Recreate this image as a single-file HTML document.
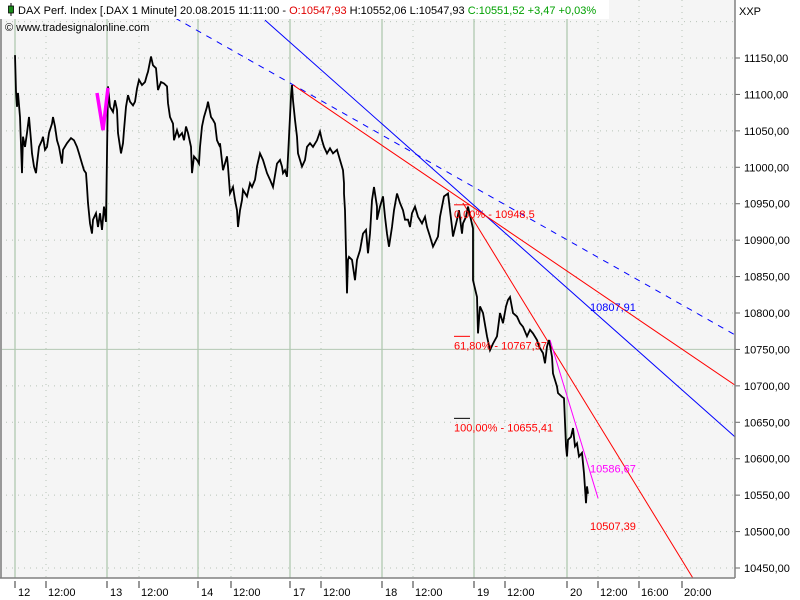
<!DOCTYPE html>
<html><head><meta charset="utf-8"><style>
html,body{margin:0;padding:0;background:#f5f5f5;}
svg{display:block;font-family:"Liberation Sans",Tahoma,sans-serif;}
</style></head><body>
<svg id="chart" width="800" height="600" viewBox="0 0 800 600" xmlns="http://www.w3.org/2000/svg">
<rect x="0" y="0" width="800" height="600" fill="#f5f5f5"/>
<rect x="735" y="0" width="65" height="600" fill="#ffffff"/>
<rect x="0" y="578" width="800" height="22" fill="#ffffff"/>
<g id="grid"></g>
<g id="lines"></g>
<g id="price"></g>
<g id="fib"></g>
<g id="axes"></g>
<line x1="1" y1="0" x2="1" y2="578" stroke="#999" stroke-width="2"/>
<line x1="735" y1="0" x2="735" y2="578" stroke="#808080" stroke-width="1.5"/>
<line x1="0" y1="578" x2="735" y2="578" stroke="#808080" stroke-width="1.5"/>
<text x="739" y="15" font-size="11" fill="#000">XXP</text>
<rect x="0" y="0" width="609" height="19" fill="#ffffff"/>
<g><line x1="11" y1="3" x2="11" y2="16" stroke="#000"/><rect x="8.5" y="6" width="5" height="7" fill="#1a8c1a" stroke="#000" stroke-width="0.8"/></g>
<text x="18" y="14" font-size="11"><tspan fill="#000">DAX Perf. Index [.DAX  1 Minute] 20.08.2015 11:11:00 - </tspan><tspan fill="#e00000">O:10547,93</tspan><tspan fill="#000"> H:10552,06 L:10547,93 </tspan><tspan fill="#00a000">C:10551,52 +3,47 +0,03%</tspan></text>
<text x="5" y="31" font-size="11" fill="#000">© www.tradesignalonline.com</text>
</svg>
<script>
// time unit: chart ticks from start of Aug 12 session; prices in index points
const times = [0,1,2,3,5,7,8,10,12,14,16,17,19,21,22,24,27,28,30,32,34,37,38,40,42,44,47,48,52,56,59,62,64,67,69,71,72,73,75,77,78,81,83,85,87,89,91,
93,95,98,100,102,103,106,108,109,111,113,115,118,120,122,124,127,130,132,133,136,138,141,143,146,149,152,153,155,158,159,162,164,167,169,171,173,176,177,179,182,184,185,187,189,192,193,196,198,200,202,205,
205,208,212,213,215,218,220,222,223,225,227,228,232,235,237,240,242,245,248,252,255,258,262,265,267,268,270,272,274,276,277,278,280,282,283,285,287,290,292,295,298,302,305,307,309,312,315,318,322,325,328,329,
329,330,332,333,334,337,340,342,345,348,351,353,355,357,359,361,362,362,365,368,370,372,374,377,379,382,385,388,390,393,395,397,400,403,407,410,412,415,418,423,425,427,429,433,435,437,438,442,444,447,448,451,453,456,458,
458,462,463,465,468,472,475,478,482,485,488,491,493,495,498,502,505,508,512,515,518,522,524,528,530,532,534,537,538,540,542,543,547,549,551,552,553,556,558,560,562,564,567,568,569,571,572,573];
const prices = [11154,11104,11083,11102,11069,10992,11042,11028,11047,11069,11037,11019,11001,10992,11005,11028,11037,11042,11024,11028,11047,11060,11069,11056,11037,11028,11005,11024,11033,11040,11037,11028,11019,11005,10996,10992,10973,10951,10923,10909,10928,10937,10918,10937,10914,10946,10925,
11111,11083,11076,11092,11079,11047,11019,11033,11051,11083,11099,11090,11085,11090,11108,11120,11113,11117,11127,11131,11152,11140,11136,11106,11117,11115,11111,11088,11069,11060,11037,11051,11042,11047,11037,11056,11047,11028,10992,11015,11010,11005,11028,11056,11069,11083,11090,11069,11065,11060,
11037,11028,11033,10996,11015,11001,10964,10973,10955,10941,10918,10941,10955,10969,10960,10978,10973,10983,11001,11019,11010,10992,10983,10973,11005,11010,11001,10992,10996,10987,11042,11097,11113,11092,11065,11042,11019,11010,11001,11010,11028,11033,11028,11037,11049,11037,11028,11019,11026,11019,11024,
11010,10996,10978,10964,10941,10827,10873,10877,10873,10845,10873,10886,10909,10914,10882,10909,10955,10973,10955,10946,10928,10946,10960,10932,10909,10891,10918,10941,10964,10951,10941,10928,10928,10918,10937,10946,10932,10923,10932,10918,10905,10891,10905,10932,10946,10960,10964,10941,10918,10905,10928,
10941,10909,10923,10932,10946,10928,10916,10845,10822,10772,10809,10800,10768,10749,10758,10768,10800,10786,10809,10818,10822,10800,10795,10786,10781,10768,10777,10772,10763,10754,10745,10731,10754,10763,10740,10717,10708,10699,10690,10685,10683,10617,10603,10626,10630,10642,10617,10621,10603,10608,10594,10580,10539,10562,10552];
const yTicks = [11150,11100,11050,11000,10950,10900,10850,10800,10750,10700,10650,10600,10550,10500,10450];
const yTickLabels = ["11150,00","11100,00","11050,00","11000,00","10950,00","10900,00","10850,00","10800,00","10750,00","10700,00","10650,00","10600,00","10550,00","10500,00","10450,00"];
const dayTicks = [0,92,183,275,367,459,552];
const dayLabels = ["12","13","14","17","18","19","20"];
const hourTicks = [31,124,216,306,398,490,583,624,667];
const hourLabels = ["12:00","12:00","12:00","12:00","12:00","12:00","12:00","16:00","20:00"];
// trend lines: [t1, p1, t2, p2]
const blueDashed = [160,11205,720,10770];
const blueSolid = [250,11202,720,10630];
const redShallow = [278,11113,720,10701];
const redSteep = [448,10951,678,10436];
const magentaLine = [535,10763,583,10546];
const markerTimes = [82,88,93];
const markerPrices = [11102,11051,11109];
const fibLevels = [10948.5,10767.97,10655.41];
const fibLabels = ["0,00% - 10948,5","61,80% - 10767,97","100,00% - 10655,41"];
const fibStart = 439, fibEnd = 455;

const NS="http://www.w3.org/2000/svg";
function X(t){return 15+t;}
function Y(v){return 58+(11150-v)*0.72857;}
function mk(parent,tag,attrs){const e=document.createElementNS(NS,tag);for(const k in attrs)e.setAttribute(k,attrs[k]);document.getElementById(parent).appendChild(e);return e;}

yTicks.forEach((v,i)=>{
  const g=mk('grid','line',{x1:0,x2:735,y1:Y(v),y2:Y(v),stroke:v===10750?'#b4c8b4':'#b8c4b8','stroke-width':1,'stroke-dasharray':(v===10750)?'':'1,5'});
  
  
  const tk=mk('axes','line',{x1:735,x2:740,y1:Y(v),y2:Y(v),stroke:'#666'});
  
  
  const tx=mk('axes','text',{x:744,y:Y(v)+4,'font-size':11,fill:'#000'});
  tx.textContent=yTickLabels[i];
  
  
});
[11200].forEach(v=>{const g=mk('grid','line',{x1:0,x2:735,y1:Y(v),y2:Y(v),stroke:'#b8c4b8','stroke-dasharray':'1,5'});
  
  });
dayTicks.forEach((t,i)=>{
  const g=mk('grid','line',{x1:X(t),x2:X(t),y1:0,y2:578,stroke:'#b0c8b0','stroke-width':1.3});
  
  
  const tk=mk('axes','line',{x1:X(t),x2:X(t),y1:581,y2:588,stroke:'#333'});
  
  
  const tx=mk('axes','text',{x:X(t)+3,y:596,'font-size':11,fill:'#000'});
  tx.textContent=dayLabels[i];
  
  
});
hourTicks.forEach((t,i)=>{
  const g=mk('grid','line',{x1:X(t),x2:X(t),y1:0,y2:578,stroke:'#b8c4b8','stroke-dasharray':'1,5'});
  
  
  const tk=mk('axes','line',{x1:X(t),x2:X(t),y1:581,y2:588,stroke:'#333'});
  
  
  const tx=mk('axes','text',{x:X(t)+2,y:596,'font-size':11,fill:'#000'});
  tx.textContent=hourLabels[i];
  
  
});

function seg(a,color,dash,name){
  const l=mk('lines','line',{x1:X(a[0]),y1:Y(a[1]),x2:X(a[2]),y2:Y(a[3]),stroke:color,'stroke-width':1,'stroke-dasharray':dash||''});
  
  
}
seg(blueDashed,'#0000ff','6,6','blue-dashed-trendline');
seg(blueSolid,'#0000ff','','blue-trendline');
seg(redShallow,'#ff0000','','red-trendline');
seg(redSteep,'#ff0000','','red-steep-trendline');
seg(magentaLine,'#ff00ff','','magenta-trendline');

let d='';
for(let i=0;i<times.length;i++){d+=(i?'L':'M')+X(times[i]).toFixed(1)+' '+Y(prices[i]).toFixed(1);}
const p=mk('price','path',{d:d,fill:'none',stroke:'#000','stroke-width':1.8,'stroke-linejoin':'miter'});



let md='';
markerTimes.forEach((t,i)=>{md+=(i?'L':'M')+X(t)+' '+Y(markerPrices[i]);});
const m=mk('price','path',{d:md,fill:'none',stroke:'#ff00ff','stroke-width':3.5});



fibLevels.forEach((v,i)=>{
  const l=mk('fib','line',{x1:X(fibStart),x2:X(fibEnd),y1:Y(v),y2:Y(v),stroke:i===2?'#000':'#ff0000','stroke-width':1});
  
  
  const tx=mk('fib','text',{x:X(fibStart),y:Y(v)+13,'font-size':11,fill:'#ff0000'});
  tx.textContent=fibLabels[i];
  
  
});
function lbl(txt,t,v,color,name){
  const tx=mk('fib','text',{x:X(t),y:Y(v)+4,'font-size':11,fill:color});
  tx.textContent=txt;
  
  
}
lbl('10807,91',575,10807.91,'#0000ff','blue-trendline-value');
lbl('10586,67',575,10586.67,'#ff00ff','magenta-trendline-value');
lbl('10507,39',575,10507.39,'#ff0000','red-trendline-value');
</script>
</body></html>
